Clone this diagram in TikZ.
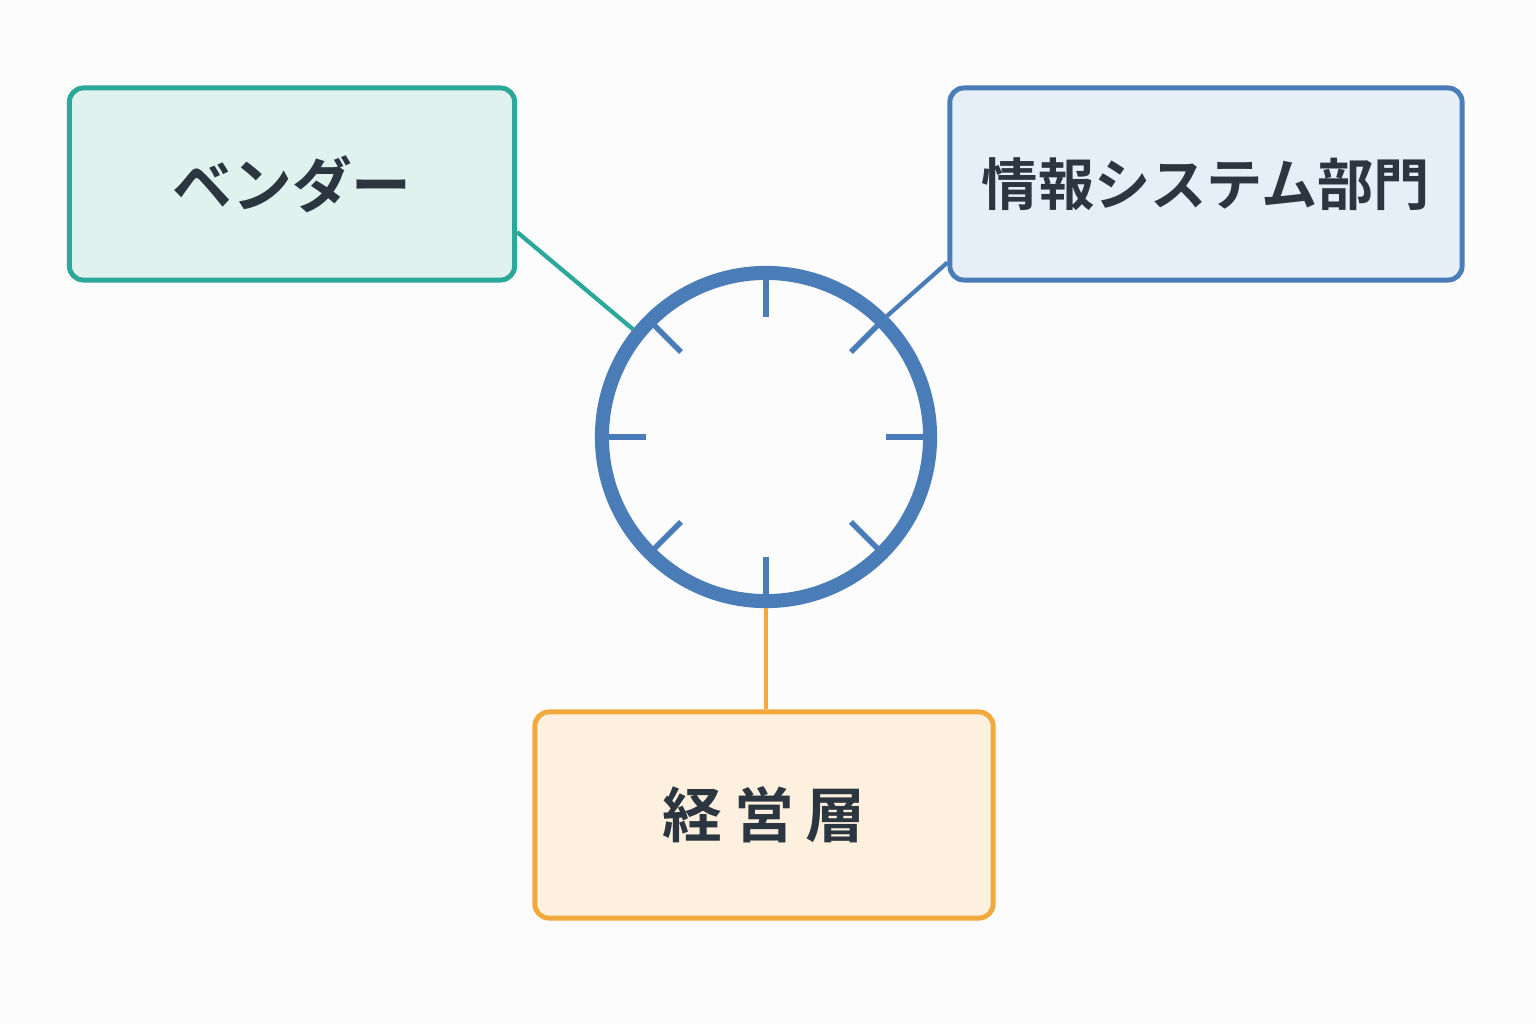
\documentclass[tikz,border=0pt]{standalone}
\usepackage{fontspec}
\newfontfamily\cjk{Noto Sans CJK JP Bold}
\definecolor{tealline}{HTML}{2BA89A}
\definecolor{tealfill}{HTML}{E0F2EE}
\definecolor{blueline}{HTML}{4A7DB8}
\definecolor{bluefill}{HTML}{E6EEF8}
\definecolor{orangeline}{HTML}{F2A93B}
\definecolor{orangefill}{HTML}{FDF0DF}
\definecolor{inktext}{HTML}{2B3640}
\tikzset{
  party/.style={draw, line width=1.4pt, rounded corners=4pt, text=inktext,
    font=\cjk\fontsize{17}{19}\selectfont},
  link/.style={line width=1.2pt}
}
\begin{document}
\begin{tikzpicture}[x=0.01cm, y=-0.01cm]
    \fill[white!99!black] (0,0) rectangle (1536,1024);
    \useasboundingbox (0,0) rectangle (1536,1024);

    \node[party, color=tealline, fill=tealfill, minimum width=4.45cm, minimum height=1.92cm]
        (vendor) at (292,184) {\textcolor{inktext}{ベンダー}};
    \node[party, color=blueline, fill=bluefill, minimum width=5.12cm, minimum height=1.92cm,
        font=\cjk\fontsize{16}{18}\selectfont]
        (infosys) at (1206,184) {\textcolor{inktext}{情報システム部門}};
    \node[party, color=orangeline, fill=orangefill, minimum width=4.58cm, minimum height=2.06cm]
        (mgmt) at (764,815) {\textcolor{inktext}{経\hspace{0.12cm}営\hspace{0.12cm}層}};

    \node[circle, draw=blueline, line width=4pt, minimum size=3.28cm, inner sep=0]
        (clock) at (766,437) {};
    \foreach \a in {0,45,...,315}
        \draw[blueline, line width=1.6pt] (clock.center) ++(\a:1.2cm) -- ++(\a:0.45cm);

    \draw[link, tealline] ([yshift=-0.48cm]vendor.east) -- (clock.141);
    \draw[link, blueline] ([yshift=0.2cm]infosys.south west) -- (clock.45);
    \draw[link, orangeline] (clock.south) -- (mgmt.north -| clock.south);
\end{tikzpicture}
\end{document}
